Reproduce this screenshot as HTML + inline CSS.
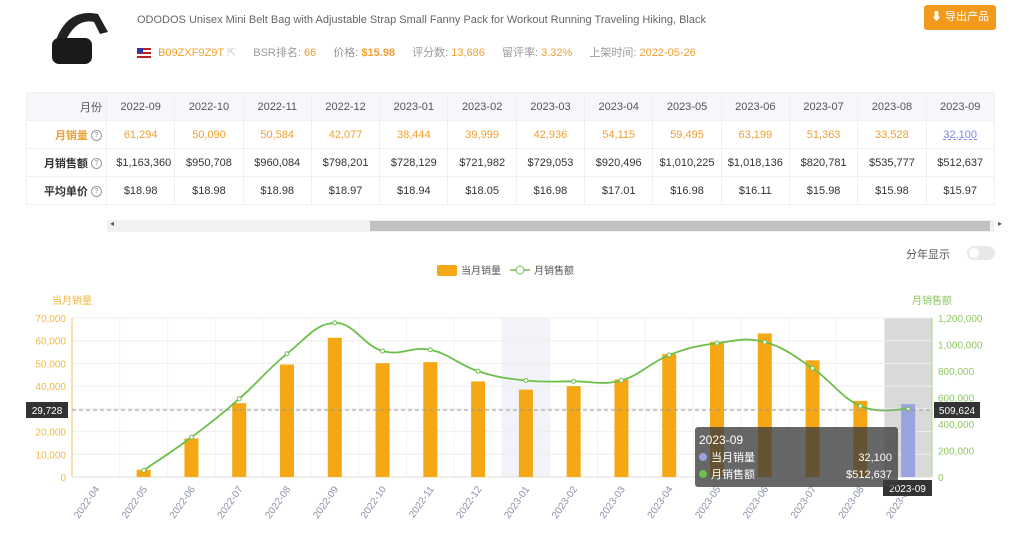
<!DOCTYPE html>
<html><head><meta charset="utf-8">
<style>
body{margin:0;width:1024px;height:549px;background:#fff;font-family:"Liberation Sans","Noto Sans CJK SC",sans-serif;overflow:hidden;position:relative;color:#333}
.abs{position:absolute}
table{border-collapse:collapse;position:absolute;left:26px;top:92px;font-size:11px;table-layout:fixed;width:968px}
td{border:1px solid #eef0f4;text-align:center;height:27px;padding:0;white-space:nowrap;overflow:hidden}
td.h{text-align:right;padding-right:4px;font-weight:bold;color:#333}
tr.hd td{background:#f6f7fa;color:#555}
tr.hd td.h{font-weight:normal}
tr.vol td{color:#f0a030}
.q{display:inline-block;width:9px;height:9px;border:1px solid #999;border-radius:50%;font-size:7px;line-height:9px;color:#999;font-weight:normal;text-align:center;vertical-align:middle}
</style></head><body>
<div class="abs" style="left:48px;top:6px;width:70px;height:62px">
<svg width="70" height="62"><path d="M8 34 Q20 2 50 8 L60 26 L52 28 L46 16 Q28 12 17 36Z" fill="#222"/><rect x="4" y="32" width="40" height="26" rx="7" fill="#1a1a1a"/></svg></div>
<div class="abs" style="left:137px;top:14px;font-size:11px;color:#666">ODODOS Unisex Mini Belt Bag with Adjustable Strap Small Fanny Pack for Workout Running Traveling Hiking, Black</div>
<div class="abs" style="left:137px;top:44px;font-size:11px;color:#999;white-space:nowrap">
<span style="display:inline-block;width:14px;height:10px;background:linear-gradient(#b22 0 20%,#fff 20% 40%,#b22 40% 60%,#fff 60% 80%,#b22 80%);vertical-align:middle;position:relative"><span style="position:absolute;left:0;top:0;width:6px;height:5px;background:#33a"></span></span>
<span style="color:#f0a030;margin-left:4px">B09ZXF9Z9T</span> <span style="color:#ccc">⇱</span>
<span style="margin-left:14px">BSR排名: <b style="color:#f0a030;font-weight:normal">66</b></span>
<span style="margin-left:14px">价格: <b style="color:#f0a030">$15.98</b></span>
<span style="margin-left:14px">评分数: <b style="color:#f0a030;font-weight:normal">13,686</b></span>
<span style="margin-left:14px">留评率: <b style="color:#f0a030;font-weight:normal">3.32%</b></span>
<span style="margin-left:14px">上架时间: <b style="color:#f0a030;font-weight:normal">2022-05-26</b></span></div>
<div class="abs" style="left:924px;top:5px;width:72px;height:25px;background:#f39a1c;border-radius:3px;color:#fff;font-size:11px;line-height:25px;text-align:center">⬇ 导出产品</div>

<table>
<colgroup><col style="width:80px"><col span="13" style="width:68.3px"></colgroup>
<tr class="hd"><td class="h">月份</td><td>2022-09</td><td>2022-10</td><td>2022-11</td><td>2022-12</td><td>2023-01</td><td>2023-02</td><td>2023-03</td><td>2023-04</td><td>2023-05</td><td>2023-06</td><td>2023-07</td><td>2023-08</td><td>2023-09</td></tr>
<tr class="vol"><td class="h" style="color:#f0a030">月销量 <span class="q">?</span></td><td>61,294</td><td>50,090</td><td>50,584</td><td>42,077</td><td>38,444</td><td>39,999</td><td>42,936</td><td>54,115</td><td>59,495</td><td>63,199</td><td>51,363</td><td>33,528</td><td style="color:#7a8ae0;text-decoration:underline dashed">32,100</td></tr>
<tr><td class="h">月销售额 <span class="q">?</span></td><td style="text-align:right;padding-right:3px">$1,163,360</td><td>$950,708</td><td>$960,084</td><td>$798,201</td><td>$728,129</td><td>$721,982</td><td>$729,053</td><td>$920,496</td><td>$1,010,225</td><td>$1,018,136</td><td>$820,781</td><td>$535,777</td><td>$512,637</td></tr>
<tr><td class="h">平均单价 <span class="q">?</span></td><td>$18.98</td><td>$18.98</td><td>$18.98</td><td>$18.97</td><td>$18.94</td><td>$18.05</td><td>$16.98</td><td>$17.01</td><td>$16.98</td><td>$16.11</td><td>$15.98</td><td>$15.98</td><td>$15.97</td></tr>
</table>
<div class="abs" style="left:107px;top:220px;width:887px;height:12px;background:#f1f1f1">
<div style="position:absolute;left:263px;top:1px;width:620px;height:10px;background:#c1c1c1"></div>
<span style="position:absolute;left:3px;top:-1px;font-size:8px;color:#555">◂</span><span style="position:absolute;right:-8px;top:-1px;font-size:8px;color:#555">▸</span></div>

<div class="abs" style="left:906px;top:246px;font-size:11px;color:#555">分年显示</div>
<div class="abs" style="left:967px;top:246px;width:28px;height:14px;border-radius:7px;background:#e8e8e8"><div style="position:absolute;left:2px;top:2px;width:10px;height:10px;border-radius:5px;background:#fff"></div></div>

<svg id="chart" class="abs" style="left:0;top:0" width="1024" height="549"></svg>
<script>
const categories=["2022-04","2022-05","2022-06","2022-07","2022-08","2022-09","2022-10","2022-11","2022-12","2023-01","2023-02","2023-03","2023-04","2023-05","2023-06","2023-07","2023-08","2023-09"];
const volume=[0,3200,17000,32500,49500,61294,50090,50584,42077,38444,39999,42936,54115,59495,63199,51363,33528,32100];
const revenue=[null,50000,300000,590000,930000,1163360,950708,960084,798201,728129,721982,729053,920496,1010225,1018136,820781,535777,512637];
const leftTicks=[0,10000,20000,30000,40000,50000,60000,70000];
const rightTicks=[0,200000,400000,600000,800000,1000000,1200000];
const X0=72,X1=932,Y0=477,Y1=318;
const bw=(X1-X0)/categories.length;
const xc=i=>X0+bw*(i+0.5);
const yl=v=>Y0-(v/70000)*(Y0-Y1);
const yr=v=>Y0-(v/1200000)*(Y0-Y1);
const svg=document.getElementById('chart');const NS='http://www.w3.org/2000/svg';
function mk(t,a,p){const e=document.createElementNS(NS,t);for(const k in a)e.setAttribute(k,a[k]);(p||svg).appendChild(e);return e;}
const fmt=v=>v.toLocaleString('en-US');
let b=mk('rect',{x:X0+bw*9,y:Y1,width:bw,height:Y0-Y1,fill:'#f1f3f8'});


b=mk('rect',{x:X0+bw*17,y:Y1,width:bw,height:Y0-Y1,fill:'#d9d9d9'});


leftTicks.forEach(v=>{const l=mk('line',{x1:X0,x2:X1,y1:yl(v),y2:yl(v),stroke:'#eee'});


const t=mk('text',{x:X0-6,y:yl(v)+4,'text-anchor':'end','font-size':10,fill:'#f0b840'});t.textContent=fmt(v);

});
categories.forEach((c,i)=>{const l=mk('line',{x1:X0+bw*i,x2:X0+bw*i,y1:Y1,y2:Y0,stroke:'#f3f3f3'});


const t=mk('text',{x:xc(i)+4,y:Y0+12,'text-anchor':'end','font-size':10,fill:'#8a93a8',transform:`rotate(-55 ${xc(i)+4} ${Y0+12})`});t.textContent=c;

});
rightTicks.forEach(v=>{const t=mk('text',{x:X1+6,y:yr(v)+4,'font-size':10,fill:'#8cc860'});t.textContent=fmt(v);

});
mk('line',{x1:X0,x2:X0,y1:Y1,y2:Y0,stroke:'#f0c060'});
mk('line',{x1:X1,x2:X1,y1:Y1,y2:Y0,stroke:'#a8d888'});
mk('line',{x1:X0,x2:X1,y1:Y0,y2:Y0,stroke:'#ddd'});
let t=mk('text',{x:52,y:304,'font-size':10,fill:'#f0b840'});t.textContent='当月销量';


t=mk('text',{x:912,y:304,'font-size':10,fill:'#8cc860'});t.textContent='月销售额';


volume.forEach((v,i)=>{const r=mk('rect',{x:xc(i)-7,y:yl(v),width:14,height:Y0-yl(v),fill:i==17?'#9aa3e0':'#f5a814'});

});
const pts=[];revenue.forEach((v,i)=>{if(v!=null)pts.push([xc(i),yr(v)]);});
let d='M'+pts[0];for(let i=0;i<pts.length-1;i++){const p0=pts[i-1]||pts[i],p1=pts[i],p2=pts[i+1],p3=pts[i+2]||p2;const s=0.2;
d+=` C${p1[0]+(p2[0]-p0[0])*s},${p1[1]+(p2[1]-p0[1])*s} ${p2[0]-(p3[0]-p1[0])*s},${p2[1]-(p3[1]-p1[1])*s} ${p2[0]},${p2[1]}`;}
const ln=mk('path',{d:d,fill:'none',stroke:'#6cc04a','stroke-width':1.8});


pts.forEach(p=>{const c=mk('circle',{cx:p[0],cy:p[1],r:2,fill:'#fff',stroke:'#6cc04a'});

});
mk('line',{x1:X0,x2:X1,y1:410,y2:410,stroke:'#999','stroke-dasharray':'4 3'});
function box(x,y,w,h,txt,name){const g=mk('g',{});
mk('rect',{x:x,y:y,width:w,height:h,fill:'#333'},g);const tt=mk('text',{x:x+w/2,y:y+h-4,'text-anchor':'middle','font-size':10,fill:'#fff'},g);tt.textContent=txt;}
box(26,402,42,16,'29,728','crosshair-left-label');
box(934,402,46,16,'509,624','crosshair-right-label');
box(883,480,49,16,'2023-09','crosshair-x-label');
const lg=mk('g',{});
mk('rect',{x:437,y:265,width:20,height:11,rx:2,fill:'#f5a814'},lg);
t=mk('text',{x:461,y:274,'font-size':10,fill:'#555'},lg);t.textContent='当月销量';
mk('line',{x1:510,x2:530,y1:270,y2:270,stroke:'#6cc04a','stroke-width':1.5},lg);
mk('circle',{cx:520,cy:270,r:4,fill:'#fff',stroke:'#6cc04a'},lg);
t=mk('text',{x:534,y:274,'font-size':10,fill:'#555'},lg);t.textContent='月销售额';
const tg=mk('g',{});
mk('rect',{x:695,y:427,width:203,height:60,rx:3,fill:'rgba(60,60,60,0.78)'},tg);
t=mk('text',{x:699,y:444,'font-size':12,fill:'#fff'},tg);t.textContent=categories[17];
mk('circle',{cx:703,cy:457,r:4,fill:'#9aa3e0'},tg);
t=mk('text',{x:711,y:461,'font-size':11,fill:'#fff'},tg);t.textContent='当月销量';
t=mk('text',{x:892,y:461,'font-size':11,fill:'#fff','text-anchor':'end'},tg);t.textContent=fmt(volume[17]);
mk('circle',{cx:703,cy:474,r:4,fill:'#6cc04a'},tg);
t=mk('text',{x:711,y:478,'font-size':11,fill:'#fff'},tg);t.textContent='月销售额';
t=mk('text',{x:892,y:478,'font-size':11,fill:'#fff','text-anchor':'end'},tg);t.textContent='$'+fmt(revenue[17]);
</script>
</body></html>
